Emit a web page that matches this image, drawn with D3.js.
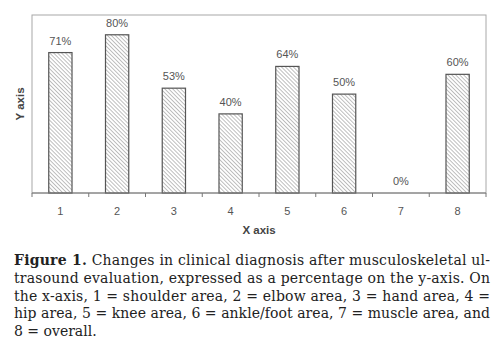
<!DOCTYPE html>
<html><head><meta charset="utf-8">
<script src="https://cdn.jsdelivr.net/npm/d3@7/dist/d3.min.js"></script>
<style>body{margin:0;background:#fff}svg{display:block}</style>
</head><body>
<script>
const categories = ["1","2","3","4","5","6","7","8"];
const values = [71,80,53,40,64,50,0,60];
const valueLabels = ["71%","80%","53%","40%","64%","50%","0%","60%"];
const xTitle = "X axis";
const yTitle = "Y axis";
const captionLines = [
  ["Figure 1.", " Changes in clinical diagnosis after musculoskeletal ul-"],
  ["", "trasound evaluation, expressed as a percentage on the y-axis. On"],
  ["", "the x-axis, 1 = shoulder area, 2 = elbow area, 3 = hand area, 4 ="],
  ["", "hip area, 5 = knee area, 6 = ankle/foot area, 7 = muscle area, and"],
  ["", "8 = overall."]
];

const W = 498, H = 344;
const m = {left:32, right:486, top:15, bottom:193};
const svg = d3.select("body").append("svg").attr("width",W).attr("height",H);

const defs = svg.append("defs");
const pat = defs.append("pattern").attr("id","hatch").attr("patternUnits","userSpaceOnUse")
  .attr("width",2.8).attr("height",2.8).attr("patternTransform","rotate(-45)");
pat.append("rect").attr("width",2.8).attr("height",2.8).attr("fill","#fff");
pat.append("line").attr("x1",0).attr("y1",0).attr("x2",0).attr("y2",2.8)
  .attr("stroke","#808080").attr("stroke-width",1);

const x = d3.scaleBand().domain(categories).range([m.left,m.right]).paddingInner(0.59).paddingOuter(0.295);
const xTicks = d3.scaleBand().domain(categories).range([m.left,m.right]);
const y = d3.scaleLinear().domain([0,90]).range([m.bottom,m.top]);

// frame
svg.append("rect").attr("x",m.left).attr("y",m.top).attr("width",m.right-m.left).attr("height",m.bottom-m.top)
  .attr("fill","#fff").attr("stroke","#a8a8a8").attr("stroke-width",1);

// bars
svg.append("g").selectAll("rect").data(values).join("rect")
  .attr("x",(d,i)=>x(categories[i])).attr("width",x.bandwidth())
  .attr("y",d=>y(d)).attr("height",d=>y(0)-y(d))
  .attr("fill","url(#hatch)").attr("stroke","#555").attr("stroke-width",1.2)
  .attr("display",d=>d>0?null:"none");

// value labels
svg.append("g").selectAll("text").data(values).join("text")
  .attr("x",(d,i)=>x(categories[i])+x.bandwidth()/2).attr("y",d=>y(d)-8)
  .attr("text-anchor","middle").attr("font-family","Liberation Sans, Arial, sans-serif")
  .attr("font-size",11).attr("fill","#555").text((d,i)=>valueLabels[i]);

// x axis
const xAxis = svg.append("g").attr("transform",`translate(0,${m.bottom})`);
xAxis.append("line").attr("x1",m.left).attr("x2",m.right).attr("stroke","#777");
const tickPos = categories.map(c=>xTicks(c)).concat([m.right]);
xAxis.selectAll("line.t").data(tickPos).join("line").attr("class","t")
  .attr("x1",d=>d).attr("x2",d=>d).attr("y1",0).attr("y2",4).attr("stroke","#777");
xAxis.selectAll("text").data(categories).join("text")
  .attr("x",c=>xTicks(c)+xTicks.bandwidth()/2).attr("y",22)
  .attr("text-anchor","middle").attr("font-family","Liberation Sans, Arial, sans-serif")
  .attr("font-size",11).attr("fill","#555").text(c=>c);

svg.append("text").attr("x",(m.left+m.right)/2).attr("y",234).attr("text-anchor","middle")
  .attr("font-family","Liberation Sans, Arial, sans-serif").attr("font-weight","bold")
  .attr("font-size",11.5).attr("fill","#444").text(xTitle);
svg.append("text").attr("transform",`translate(24,${(m.top+m.bottom)/2}) rotate(-90)`).attr("text-anchor","middle")
  .attr("font-family","Liberation Sans, Arial, sans-serif").attr("font-weight","bold")
  .attr("font-size",11.5).attr("fill","#444").text(yTitle);

// caption
const cap = svg.append("g");
captionLines.forEach((ln,i)=>{
  const t = cap.append("text").attr("x",14).attr("y",265+i*17.8)
    .attr("font-family","DejaVu Serif, serif").attr("font-size",14).attr("fill","#222");
  if(i<captionLines.length-1){ t.attr("textLength",476).attr("lengthAdjust","spacing"); }
  if(ln[0]) t.append("tspan").attr("font-weight","bold").text(ln[0]);
  t.append("tspan").text(ln[1]);
});
</script>
</body></html>
